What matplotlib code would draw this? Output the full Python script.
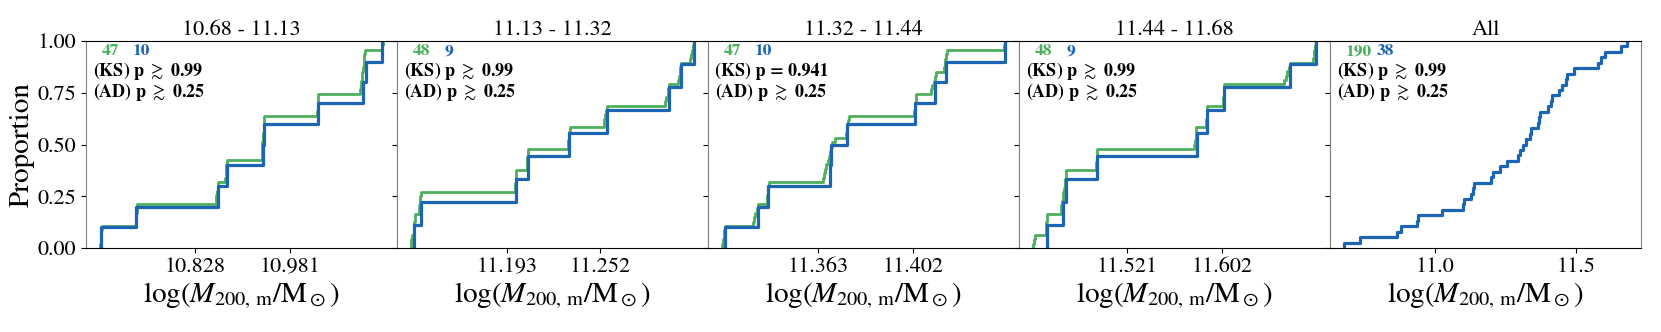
import numpy as np
import matplotlib
matplotlib.use("Agg")
from matplotlib import pyplot as plt

plt.rcParams['font.family'] = 'STIXGeneral'
plt.rcParams['mathtext.fontset'] = 'stix'

green_c = '#4daf5c'
blue_c = '#1c64b4'

titles = ["10.68 - 11.13", "11.13 - 11.32", "11.32 - 11.44", "11.44 - 11.68", "All"]

# blue sample (small), per mass bin
blue_1 = [10.678, 10.734, 10.866, 10.880, 10.938, 10.940, 11.027, 11.099, 11.103, 11.130]
blue_2 = [11.134, 11.138, 11.199, 11.2065, 11.2324, 11.2566, 11.2962, 11.3038, 11.312]
blue_3 = [11.3244, 11.3382, 11.3421, 11.3680, 11.3684, 11.3747, 11.4030, 11.4114, 11.4158, 11.4402]
blue_4 = [11.4528, 11.4667, 11.4690, 11.4954, 11.5804, 11.5892, 11.6040, 11.6603, 11.6821]

# green sample (large), per mass bin
green_1 = [10.676, 10.677, 10.678, 10.678, 10.679,
           10.733, 10.734, 10.734, 10.735, 10.735,
           10.862, 10.863, 10.864, 10.865, 10.866,
           10.877, 10.878, 10.879, 10.879, 10.880,
           10.936, 10.936, 10.937, 10.937, 10.938, 10.938, 10.939, 10.939, 10.940, 10.940,
           11.025, 11.026, 11.026, 11.027, 11.027,
           11.094, 11.095, 11.096, 11.097, 11.098, 11.099, 11.100, 11.100, 11.101, 11.102,
           11.130, 11.131]
green_2 = [11.1320, 11.1322, 11.1325, 11.1338, 11.1340, 11.1341, 11.1342, 11.1344,
           11.1368, 11.1372, 11.1375, 11.1377, 11.1380,
           11.1978, 11.1982, 11.1985, 11.1988, 11.1990,
           11.2055, 11.2058, 11.2060, 11.2062, 11.2064,
           11.2318, 11.2320, 11.2322, 11.2325, 11.2328,
           11.2545, 11.2550, 11.2555, 11.2560, 11.2564,
           11.2935, 11.2945, 11.2952, 11.2958, 11.2962,
           11.3020, 11.3025, 11.3030, 11.3034, 11.3037,
           11.3098, 11.3103, 11.3108, 11.3113, 11.3118]
green_3 = [11.3232, 11.3235, 11.3238, 11.3241, 11.3244,
           11.3358, 11.3363, 11.3369, 11.3375, 11.3381,
           11.3416, 11.3418, 11.3420, 11.3422, 11.3424,
           11.3648, 11.3653, 11.3658, 11.3663, 11.3668, 11.3673, 11.3678, 11.3683, 11.3688,
           11.3700,
           11.3746, 11.3748, 11.3750, 11.3753, 11.3756,
           11.4027, 11.4029, 11.4031, 11.4033, 11.4036,
           11.4096, 11.4102, 11.4108, 11.4112, 11.4116,
           11.4150, 11.4153, 11.4156, 11.4159, 11.4162,
           11.4398, 11.4401]
green_4 = [11.4412, 11.4418, 11.4425,
           11.4518, 11.4521, 11.4524, 11.4526, 11.4528,
           11.4648, 11.4653, 11.4658, 11.4662, 11.4666,
           11.4678, 11.4682, 11.4686, 11.4690, 11.4694,
           11.4948, 11.4950, 11.4952, 11.4954, 11.4956,
           11.5786, 11.5790, 11.5795, 11.5799, 11.5803,
           11.5884, 11.5887, 11.5890, 11.5893, 11.5896,
           11.6025, 11.6030, 11.6034, 11.6038, 11.6042,
           11.6552, 11.6565, 11.6578, 11.6590, 11.6601,
           11.6795, 11.6802, 11.6808, 11.6814, 11.6820]

blues = [blue_1, blue_2, blue_3, blue_4, blue_1 + blue_2 + blue_3 + blue_4]
greens = [green_1, green_2, green_3, green_4, None]
n_green = [47, 48, 47, 48, 190]
n_blue = [10, 9, 10, 9, 38]
ks_text = [r"(KS) p $\gtrsim$ 0.99", r"(KS) p $\gtrsim$ 0.99", "(KS) p = 0.941",
           r"(KS) p $\gtrsim$ 0.99", r"(KS) p $\gtrsim$ 0.99"]
ad_text = [r"(AD) p $\gtrsim$ 0.25"] * 5
xticks = [[10.828, 10.981], [11.193, 11.252], [11.363, 11.402], [11.521, 11.602], None]

fig, axes = plt.subplots(1, 5, figsize=(16.61, 3.32), dpi=100, sharey=True)
fig.subplots_adjust(left=0.0518, right=0.988, top=0.8765, bottom=0.253, wspace=0)

for i, ax in enumerate(axes):
    if greens[i] is not None:
        ax.ecdf(greens[i], color=green_c, lw=2.0)
    ax.ecdf(blues[i], color=blue_c, lw=2.3)
    ax.set_ylim(0, 1)
    ax.set_title(titles[i], fontsize=16, pad=4)
    if xticks[i] is not None:
        ax.set_xticks(xticks[i])
        ax.set_xticklabels([f"{t:.3f}" for t in xticks[i]])
    ax.tick_params(labelsize=16)
    ax.set_xlabel(r"$\log(M_{200,\,\mathrm{m}}/\mathrm{M}_\odot)$", fontsize=21, labelpad=2)
    ax.spines['left'].set_color('#808080')
    ax.spines['right'].set_color('#808080')
    ax.text(0.05, 0.95, str(n_green[i]), color=green_c, fontsize=12.5, fontweight='bold',
            transform=ax.transAxes, ha='left', va='center')
    ax.text(0.151, 0.95, str(n_blue[i]), color=blue_c, fontsize=12.5, fontweight='bold',
            transform=ax.transAxes, ha='left', va='center')
    ax.text(0.022, 0.855, ks_text[i], fontsize=13, fontweight='bold',
            transform=ax.transAxes, ha='left', va='center')
    ax.text(0.022, 0.754, ad_text[i], fontsize=13, fontweight='bold',
            transform=ax.transAxes, ha='left', va='center')

axes[0].set_yticks([0, 0.25, 0.5, 0.75, 1.0])
axes[0].set_yticklabels(["0.00", "0.25", "0.50", "0.75", "1.00"])
axes[0].set_ylabel("Proportion", fontsize=21, labelpad=2)

fig.savefig("out.png", dpi=100)
